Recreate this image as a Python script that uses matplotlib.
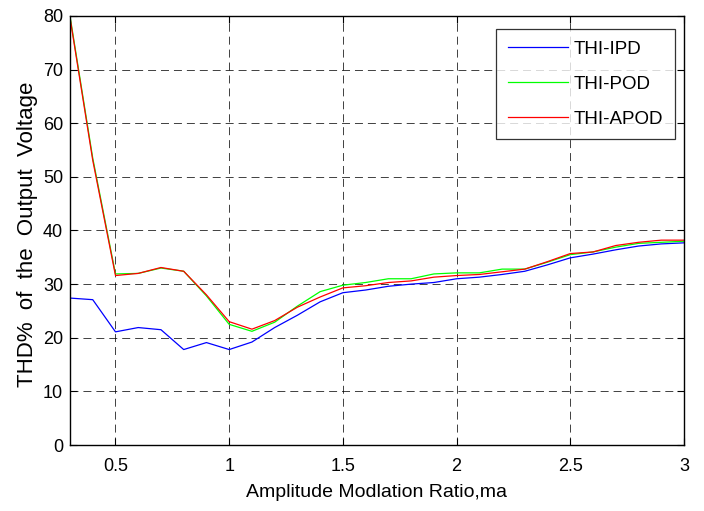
import matplotlib
matplotlib.use("Agg")
import matplotlib.pyplot as plt
import numpy as np

ma = [0.3, 0.4, 0.5, 0.6, 0.7, 0.8, 0.9, 1.0, 1.1, 1.2, 1.3, 1.4, 1.5,
      1.6, 1.7, 1.8, 1.9, 2.0, 2.1, 2.2, 2.3, 2.4, 2.5, 2.6, 2.7, 2.8, 2.9, 3.0]
thd_ipd = [27.4, 27.1, 21.1, 21.9, 21.5, 17.8, 19.1, 17.8, 19.2, 21.9, 24.2, 26.7, 28.4,
           28.9, 29.6, 30.0, 30.3, 31.0, 31.3, 31.8, 32.4, 33.6, 34.9, 35.6, 36.4, 37.1, 37.5, 37.7]
thd_pod = [80.0, 53.5, 31.9, 32.0, 33.0, 32.4, 27.8, 22.5, 21.2, 22.9, 25.9, 28.6, 29.8,
           30.3, 31.0, 31.0, 31.9, 32.1, 32.1, 32.8, 32.8, 34.1, 35.5, 36.0, 36.9, 37.6, 37.8, 38.0]
thd_apod = [79.7, 53.1, 31.6, 32.0, 33.1, 32.4, 28.0, 23.0, 21.6, 23.2, 25.7, 27.6, 29.3,
            29.7, 30.3, 30.6, 31.3, 31.6, 31.8, 32.3, 32.8, 34.2, 35.7, 36.0, 37.2, 37.8, 38.2, 38.2]
labels = ["THI-IPD", "THI-POD", "THI-APOD"]
xticks = [0.5, 1, 1.5, 2, 2.5, 3]
xticklabels = ["0.5", "1", "1.5", "2", "2.5", "3"]
yticks = [0, 10, 20, 30, 40, 50, 60, 70, 80]

plt.rcParams['font.family'] = ['Liberation Sans', 'DejaVu Sans']

fig = plt.figure(figsize=(7.04, 5.11), dpi=100)
ax = fig.add_axes([70/704, 1-445/511, 614/704, 429/511])

ax.plot(ma, thd_ipd, color='#0000ff', lw=0.9, label=labels[0])
ax.plot(ma, thd_pod, color='#00ff00', lw=0.9, label=labels[1])
ax.plot(ma, thd_apod, color='#ff0000', lw=0.9, label=labels[2])

ax.set_xlim(0.3, 3)
ax.set_ylim(0, 80)
ax.set_xticks(xticks)
ax.set_xticklabels(xticklabels)
ax.set_yticks(yticks)
ax.tick_params(direction='in', top=True, right=True, length=5, width=0.8,
               labelsize=13)
ax.tick_params(axis='x', pad=9)
ax.tick_params(axis='y', pad=5)
ax.grid(True, color='black', linestyle=(0, (8.2, 5.1)), linewidth=0.7, alpha=0.75)
for s in ax.spines.values():
    s.set_linewidth(1.0)

ax.set_xlabel("Amplitude Modlation Ratio,ma", fontsize=14)
ax.xaxis.set_label_coords(0.5, -0.091)
ax.set_ylabel("THD%  of  the  Output  Voltage", fontsize=16)
ax.yaxis.set_label_coords(-0.0526, 0.492)

leg = ax.legend(loc='upper right', bbox_to_anchor=(675/704, 1-29/511),
                bbox_transform=fig.transFigure, fontsize=13.5, frameon=True,
                fancybox=False, edgecolor='black', handlelength=3.2,
                borderpad=0.62, labelspacing=0.95, handletextpad=0.32,
                borderaxespad=0)
leg.get_frame().set_linewidth(0.9)

fig.savefig("out.png", dpi=100)
